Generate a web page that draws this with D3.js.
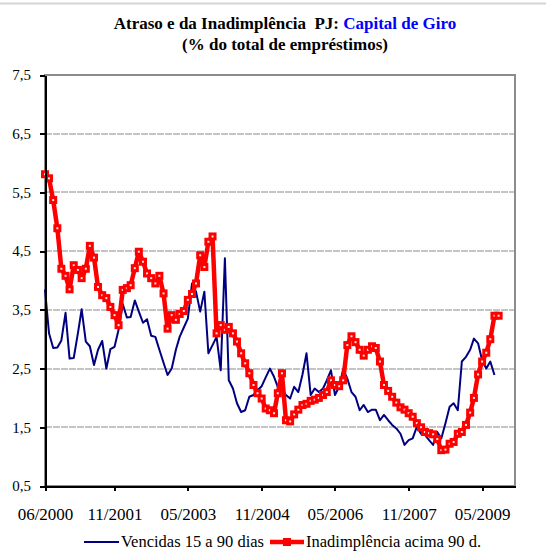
<!DOCTYPE html>
<html>
<head>
<meta charset="utf-8">
<script src="https://d3js.org/d3.v7.min.js"></script>
<style>
  body { margin: 0; background: #fff; }
  svg { display: block; }
  text { font-family: "Liberation Serif", "Times New Roman", serif; fill: #000; }
  .axis path, .axis line { stroke: #000; stroke-width: 2px; shape-rendering: crispEdges; }
  .axis text { font-size: 15px; }
  .axis--x text { font-size: 17px; }
  .grid line { stroke: #c4c4c4; stroke-width: 2px; stroke-dasharray: 7,1; shape-rendering: crispEdges; }
</style>
</head>
<body>
<div id="chart"></div>
<script>
// monthly series, first month 06/2000
var startMonth = "06/2000";

// Vencidas 15 a 90 dias (%)
var vencidas = [
  3.85, 3.10, 2.85, 2.86, 2.98, 3.45, 2.67, 2.68, 3.10, 3.51,
  2.96, 2.88, 2.56, 2.82, 2.97, 2.50, 2.83, 2.87, 3.16, 3.60,
  3.37, 3.38, 3.66, 3.47, 3.28, 3.34, 3.06, 3.04, 2.82, 2.60,
  2.39, 2.50, 2.82, 3.04, 3.20, 3.35, 3.95, 3.81, 3.47, 3.81,
  2.76, 2.90, 3.04, 2.47, 4.38, 2.30, 2.16, 1.91, 1.76, 1.79,
  2.02, 2.05, 2.13, 2.20, 2.35, 2.50, 2.36, 2.19, 2.13, 2.05,
  1.99, 2.19, 2.10, 2.40, 2.76, 2.05, 2.16, 2.10, 2.16, 2.30,
  2.47, 2.05, 2.19, 2.49, 2.33, 2.10, 2.02, 1.79, 1.88, 1.76,
  1.80, 1.80, 1.62, 1.71, 1.62, 1.54, 1.48, 1.39, 1.20, 1.28,
  1.31, 1.51, 1.39, 1.37, 1.28, 1.20, 1.42, 1.31, 1.57, 1.85,
  1.91, 1.79, 2.62, 2.70, 2.82, 3.01, 2.93, 2.64, 2.50, 2.62,
  2.39
];

// Inadimplência acima 90 d. (%)
var inadimplencia = [
  5.81, 5.74, 5.37, 4.89, 4.20, 4.08, 3.85, 4.26, 4.18, 4.04,
  4.20, 4.59, 4.39, 3.89, 3.75, 3.70, 3.55, 3.41, 3.24, 3.84,
  3.87, 3.92, 4.21, 4.49, 4.32, 4.12, 4.04, 3.95, 4.08, 3.78,
  3.18, 3.41, 3.33, 3.43, 3.48, 3.67, 3.77, 3.95, 4.43, 4.23,
  4.66, 4.75, 3.10, 3.24, 3.16, 3.21, 3.10, 2.96, 2.76, 2.59,
  2.42, 2.22, 2.08, 1.99, 1.82, 1.79, 1.74, 2.08, 2.42, 1.62,
  1.60, 1.72, 1.80, 1.88, 1.90, 1.95, 1.97, 2.00, 2.05, 2.10,
  2.30, 2.22, 2.20, 2.30, 2.90, 3.05, 2.95, 2.82, 2.72, 2.82,
  2.88, 2.85, 2.62, 2.22, 2.12, 2.02, 1.92, 1.84, 1.80, 1.74,
  1.68, 1.57, 1.50, 1.42, 1.40, 1.38, 1.30, 1.11, 1.12, 1.22,
  1.25, 1.39, 1.42, 1.54, 1.75, 2.00, 2.40, 2.62, 2.77, 3.00,
  3.40, 3.40
];

var xTickLabels = ["06/2000", "11/2001", "05/2003", "11/2004", "05/2006", "11/2007", "05/2009"];
var yTicks = [0.5, 1.5, 2.5, 3.5, 4.5, 5.5, 6.5, 7.5];
var seriesNames = ["Vencidas 15 a 90 dias", "Inadimplência acima 90 d."];

var width = 546, height = 554;
var plot = {left: 45, right: 515, top: 75, bottom: 486};

var parseMonth = d3.timeParse("%m/%Y");
var start = parseMonth(startMonth);
var monthOf = function(i) { return d3.timeMonth.offset(start, i); };

var x = d3.scaleTime()
    .domain([start, d3.timeMonth.offset(start, 115)])
    .range([plot.left, plot.right]);
var y = d3.scaleLinear().domain([0.5, 7.5]).range([plot.bottom, plot.top]);

var fmt = function(d) { return d.toFixed(1).replace(".", ","); };

var svg = d3.select("#chart").append("svg")
    .attr("width", width)
    .attr("height", height);

// outer chart frame (only top edge visible)
svg.append("line")
    .attr("x1", 0).attr("x2", width)
    .attr("y1", 3.5).attr("y2", 3.5)
    .attr("stroke", "#d4d4d4").attr("stroke-width", 2);

// title
var title = svg.append("text")
    .attr("x", 285).attr("y", 29)
    .attr("text-anchor", "middle")
    .style("font-size", "17px")
    .style("font-weight", "bold");
title.append("tspan").text("Atraso e da Inadimplência\u00a0 PJ: ");
title.append("tspan").style("fill", "#0000ff").text("Capital de Giro");

svg.append("text")
    .attr("x", 285).attr("y", 50)
    .attr("text-anchor", "middle")
    .style("font-size", "17px")
    .style("font-weight", "bold")
    .text("(% do total de empréstimos)");

// gridlines
svg.append("g")
    .attr("class", "grid")
    .selectAll("line")
    .data(yTicks.filter(function(d) { return d > 0.5 && d < 7.5; }))
    .enter().append("line")
    .attr("x1", plot.left).attr("x2", plot.right)
    .attr("y1", function(d) { return y(d); })
    .attr("y2", function(d) { return y(d); });

// plot area border (top/right gray)
svg.append("rect")
    .attr("x", plot.left).attr("y", plot.top)
    .attr("width", plot.right - plot.left)
    .attr("height", plot.bottom - plot.top)
    .attr("fill", "none")
    .attr("stroke", "#8c8c8c")
    .attr("stroke-width", 2);

// series
var line = d3.line()
    .x(function(d, i) { return x(monthOf(i)); })
    .y(function(d) { return y(d); });

svg.append("path")
    .datum(vencidas)
    .attr("fill", "none")
    .attr("stroke", "#000080")
    .attr("stroke-width", 2)
    .attr("stroke-linejoin", "round")
    .attr("d", line);

svg.append("path")
    .datum(inadimplencia)
    .attr("fill", "none")
    .attr("stroke", "#ff0000")
    .attr("stroke-width", 4.5)
    .attr("stroke-linejoin", "round")
    .attr("d", line);

svg.append("g").selectAll("rect")
    .data(inadimplencia)
    .enter().append("rect")
    .attr("x", function(d, i) { return x(monthOf(i)) - 2.5; })
    .attr("y", function(d) { return y(d) - 2.5; })
    .attr("width", 5).attr("height", 5)
    .attr("fill", "#ffe4e4")
    .attr("stroke", "#ff0000")
    .attr("stroke-width", 3);

// axes
var yAxis = d3.axisLeft(y)
    .tickValues(yTicks)
    .tickFormat(fmt)
    .tickSize(5)
    .tickSizeOuter(0)
    .tickPadding(9);

svg.append("g")
    .attr("class", "axis axis--y")
    .attr("transform", "translate(" + plot.left + ",0)")
    .call(yAxis);

var xAxis = d3.axisBottom(x)
    .tickValues(xTickLabels.map(parseMonth))
    .tickFormat(d3.timeFormat("%m/%Y"))
    .tickSize(5)
    .tickSizeOuter(0)
    .tickPadding(17);

svg.append("g")
    .attr("class", "axis axis--x")
    .attr("transform", "translate(0," + plot.bottom + ")")
    .call(xAxis);

// legend
var legend = svg.append("g").attr("class", "legend");
var ly = 542;

legend.append("line")
    .attr("x1", 84).attr("x2", 119)
    .attr("y1", ly).attr("y2", ly)
    .attr("stroke", "#000080").attr("stroke-width", 2);
legend.append("text")
    .attr("x", 121).attr("y", ly + 5)
    .style("font-size", "16.5px")
    .text(seriesNames[0]);

legend.append("line")
    .attr("x1", 270).attr("x2", 304)
    .attr("y1", ly).attr("y2", ly)
    .attr("stroke", "#ff0000").attr("stroke-width", 4.5);
legend.append("rect")
    .attr("x", 284).attr("y", ly - 3)
    .attr("width", 6).attr("height", 6)
    .attr("fill", "#ff0000")
    .attr("stroke", "#ff0000").attr("stroke-width", 2);
legend.append("text")
    .attr("x", 306).attr("y", ly + 5)
    .style("font-size", "16.5px")
    .text(seriesNames[1]);
</script>
</body>
</html>
